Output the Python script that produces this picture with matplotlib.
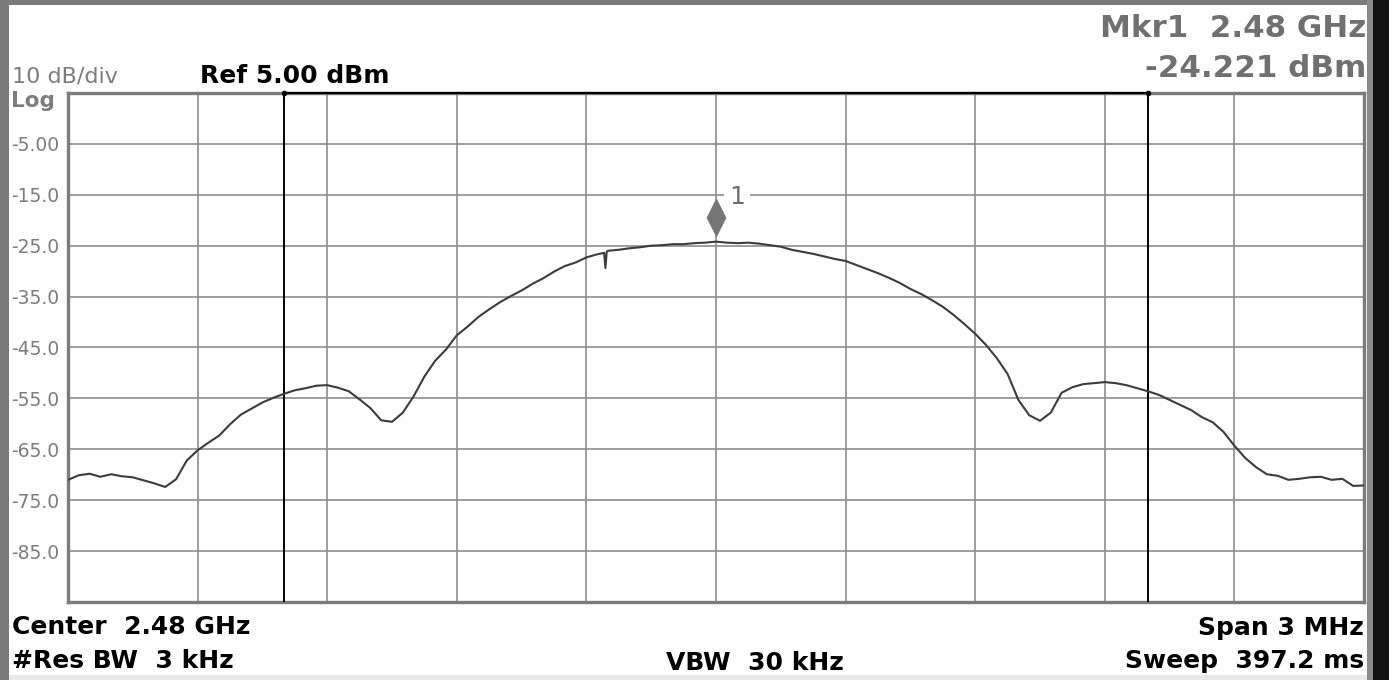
import matplotlib
matplotlib.use("Agg")
import matplotlib.pyplot as plt
from matplotlib.path import Path
from matplotlib.patches import Rectangle

# ---------------- data ----------------
center_label = "Center  2.48 GHz"
span_label = "Span 3 MHz"
rbw_label = "#Res BW  3 kHz"
vbw_label = "VBW  30 kHz"
sweep_label = "Sweep  397.2 ms"
ref_label = "Ref 5.00 dBm"
scale_label = "10 dB/div"
mkr_label_1 = "Mkr1  2.48 GHz"
mkr_label_2 = "-24.221 dBm"

ref_level = 5.0
db_per_div = 10.0
n_div = 10
span_mhz = 3.0

ytick_values = [-5, -15, -25, -35, -45, -55, -65, -75, -85]
ytick_labels = ["-5.00", "-15.0", "-25.0", "-35.0", "-45.0", "-55.0", "-65.0", "-75.0", "-85.0"]

# frequency offset from centre (MHz)
freq_mhz = [
    -1.500, -1.475, -1.450, -1.425, -1.400, -1.375, -1.350, -1.325, -1.300, -1.275,
    -1.250, -1.225, -1.200, -1.175, -1.150, -1.125, -1.100, -1.075, -1.050, -1.025,
    -1.000, -0.975, -0.950, -0.925, -0.900, -0.875, -0.850, -0.825, -0.800, -0.775,
    -0.750, -0.725, -0.700, -0.675, -0.650, -0.625, -0.600, -0.575, -0.550, -0.525,
    -0.500, -0.475, -0.450, -0.425, -0.400, -0.375, -0.350, -0.325, -0.300, -0.275,
    -0.259, -0.256, -0.253,
    -0.250, -0.225, -0.200, -0.175, -0.150, -0.125, -0.100, -0.075, -0.050, -0.025,
    0.000, 0.025, 0.050, 0.075, 0.100, 0.125, 0.150, 0.175, 0.200, 0.225,
    0.250, 0.275, 0.300, 0.325, 0.350, 0.375, 0.400, 0.425, 0.450, 0.475,
    0.500, 0.525, 0.550, 0.575, 0.600, 0.625, 0.650, 0.675, 0.700, 0.725,
    0.750, 0.775, 0.800, 0.825, 0.850, 0.875, 0.900, 0.925, 0.950, 0.975,
    1.000, 1.025, 1.050, 1.075, 1.100, 1.125, 1.150, 1.175, 1.200, 1.225,
    1.250, 1.275, 1.300, 1.325, 1.350, 1.375, 1.400, 1.425, 1.450, 1.475,
    1.500,
]

# trace level (dBm)
level_dbm = [
    -71.0, -70.1, -69.8, -70.4, -69.9, -70.3, -70.5, -71.1, -71.7, -72.4,
    -70.9, -67.2, -65.2, -63.7, -62.3, -60.1, -58.2, -57.0, -55.8, -54.9,
    -54.1, -53.4, -53.0, -52.5, -52.4, -52.9, -53.6, -55.2, -56.9, -59.3,
    -59.6, -57.8, -54.6, -50.7, -47.6, -45.4, -42.6, -40.9, -39.0, -37.5,
    -36.1, -34.9, -33.8, -32.5, -31.4, -30.1, -29.0, -28.3, -27.3, -26.7,
    -26.4, -29.4, -26.2,
    -26.0, -25.8, -25.5, -25.3, -25.0, -24.9, -24.7, -24.7, -24.5, -24.4,
    -24.2, -24.4, -24.5, -24.4, -24.6, -24.9, -25.2, -25.8, -26.2, -26.6,
    -27.1, -27.6, -28.0, -28.8, -29.6, -30.4, -31.3, -32.3, -33.5, -34.5,
    -35.7, -37.0, -38.6, -40.4, -42.3, -44.5, -47.1, -50.2, -55.3, -58.3,
    -59.4, -57.8, -53.9, -52.8, -52.2, -52.0, -51.8, -52.0, -52.4, -53.0,
    -53.6, -54.3, -55.3, -56.3, -57.3, -58.7, -59.7, -61.6, -64.3, -66.7,
    -68.5, -69.9, -70.2, -71.0, -70.8, -70.5, -70.4, -71.0, -70.8, -72.2,
    -72.1,
]

marker_freq = 0.0
marker_level = -24.221
marker_name = "1"

obw_edges = [-1.0, 1.0]

# ---------------- figure ----------------
W, H = 1389, 680
DPI = 100
fig = plt.figure(figsize=(W / DPI, H / DPI), dpi=DPI, facecolor="white")

def fx(px):
    return px / W

def fy(py):
    return 1 - py / H

fam = ["DejaVu Sans"]

left_px, right_px, top_px, bot_px = 68, 1364, 93, 602
ax = fig.add_axes([fx(left_px), fy(bot_px), fx(right_px - left_px), (bot_px - top_px) / H])

x0 = -span_mhz / 2
x1 = span_mhz / 2
y_top = ref_level
y_bot = ref_level - n_div * db_per_div
ax.set_xlim(x0, x1)
ax.set_ylim(y_bot, y_top)

grid_col = "#8e8e8e"
xt = [x0 + i * span_mhz / n_div for i in range(n_div + 1)]
ax.set_xticks(xt)
ax.set_xticklabels([])
ax.set_yticks(ytick_values)
ax.set_yticklabels(ytick_labels)
ax.tick_params(axis="both", length=0)
ax.tick_params(axis="y", pad=6, labelsize=13.5, labelcolor="#7d7d7d")
for lab in ax.get_yticklabels():
    lab.set_family(fam)
ax.grid(True, color=grid_col, linewidth=1.2)
ax.set_axisbelow(True)
for sp in ax.spines.values():
    sp.set_color("#7c7c7c")
    sp.set_linewidth(2.4)

# OBW measurement lines
for e in obw_edges:
    ax.axvline(e, color="black", linewidth=1.4, zorder=3)
ax.plot(obw_edges, [y_top, y_top], color="black", linewidth=1.6, zorder=5, clip_on=False)
ax.plot(obw_edges, [y_top, y_top], linestyle="none", marker="o", markersize=3,
        color="black", zorder=6, clip_on=False)

# trace
ax.plot(freq_mhz, level_dbm, color="#3c3c3c", linewidth=1.5, zorder=4)

# marker diamond sitting above the trace point
verts = [(0, 0.25), (0.5, 1.25), (0, 2.25), (-0.5, 1.25), (0, 0.25)]
codes = [Path.MOVETO, Path.LINETO, Path.LINETO, Path.LINETO, Path.CLOSEPOLY]
diamond = Path(verts, codes)
ax.plot([marker_freq], [marker_level], linestyle="none", marker=diamond,
        markersize=64, color="#767676", markeredgewidth=0, zorder=6)
ax.annotate(marker_name, xy=(marker_freq, marker_level), xytext=(15, 32),
            textcoords="offset points", fontsize=18, color="#6e6e6e",
            family=fam, ha="center", va="center",
            bbox=dict(boxstyle="square,pad=0.2", fc="white", ec="none"), zorder=7)

# ---------------- annotation text ----------------
fig.text(fx(12), fy(82), scale_label, fontsize=16, color="#7d7d7d", family=fam, va="baseline")
fig.text(fx(200), fy(83), ref_label, fontsize=18, color="black", weight="bold", family=fam, va="baseline")
fig.text(fx(11), fy(107), "Log", fontsize=15.5, color="#7d7d7d", weight="bold", family=fam, va="baseline")
fig.text(fx(1366), fy(37), mkr_label_1, fontsize=22.3, color="#707070", weight="bold", family=fam,
         va="baseline", ha="right")
fig.text(fx(1366), fy(77), mkr_label_2, fontsize=22.3, color="#707070", weight="bold", family=fam,
         va="baseline", ha="right")
fig.text(fx(12), fy(634), center_label, fontsize=18, color="black", weight="bold", family=fam, va="baseline")
fig.text(fx(12), fy(668), rbw_label, fontsize=18, color="black", weight="bold", family=fam, va="baseline")
fig.text(fx(755), fy(670), vbw_label, fontsize=18, color="black", weight="bold", family=fam,
         va="baseline", ha="center")
fig.text(fx(1364), fy(635), span_label, fontsize=18, color="black", weight="bold", family=fam,
         va="baseline", ha="right")
fig.text(fx(1364), fy(668), sweep_label, fontsize=18, color="black", weight="bold", family=fam,
         va="baseline", ha="right")

# ---------------- screen bezel ----------------
def frect(x, y, w, h, c):
    fig.patches.append(Rectangle((fx(x), fy(y + h)), w / W, h / H, transform=fig.transFigure,
                                 facecolor=c, edgecolor="none", zorder=0))

frect(0, 0, 9, H, "#7a7a7a")
frect(0, 0, W, 5, "#7a7a7a")
frect(1367, 0, 6, H, "#8a8a8a")
frect(1373, 0, W - 1373, H, "#111111")
frect(9, 675, 1358, 5, "#e8e8e8")

fig.savefig("out.png", dpi=DPI, facecolor="white")
